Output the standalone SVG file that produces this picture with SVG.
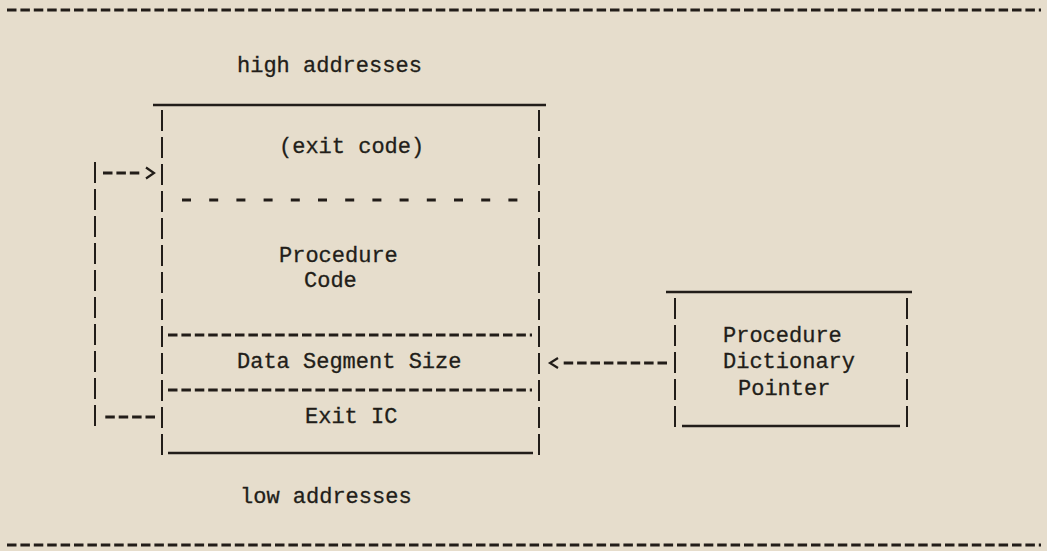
<svg xmlns="http://www.w3.org/2000/svg" width="1047" height="551" viewBox="0 0 1047 551">
<style>
.t{font-family:"Liberation Mono","DejaVu Sans Mono",monospace;font-size:22px;fill:#221d19;stroke:#221d19;stroke-width:0.3}
.solid{stroke:#221d19;stroke-width:2.6;fill:none}
.bar{stroke:#221d19;stroke-width:2;fill:none;stroke-dasharray:21 6}
.dash{stroke:#221d19;stroke-width:3;fill:none;stroke-dasharray:9.5 3.9}
.sparse{stroke:#221d19;stroke-width:3;fill:none;stroke-dasharray:9 18.2}
.head{fill:none;stroke:#221d19;stroke-width:2.2}
</style>
<rect width="1047" height="551" fill="#e6ddcc"/>
<g id="frame">
<line class="dash" x1="7" y1="10" x2="1041" y2="10"/>
<line class="dash" x1="7" y1="545" x2="1041" y2="545"/>
<text class="t" x="237" y="72">high addresses</text>
<text class="t" x="240" y="503">low addresses</text>
</g>
<g id="segment">
<line class="solid" x1="153" y1="105" x2="546" y2="105"/>
<line class="bar" x1="162" y1="110" x2="162" y2="456"/>
<line class="bar" x1="539" y1="110" x2="539" y2="456"/>
<line class="solid" x1="168" y1="453" x2="533" y2="453"/>
<line class="sparse" x1="182" y1="200" x2="518" y2="200"/>
<line class="dash" x1="168" y1="335" x2="532" y2="335"/>
<line class="dash" x1="168" y1="390" x2="532" y2="390"/>
<text class="t" x="279" y="153">(exit code)</text>
<text class="t" x="279" y="262">Procedure</text>
<text class="t" x="304" y="287">Code</text>
<text class="t" x="237" y="368">Data Segment Size</text>
<text class="t" x="305" y="423">Exit IC</text>
</g>
<g id="dictionary">
<line class="solid" x1="666" y1="292" x2="912" y2="292"/>
<line class="bar" x1="675" y1="298" x2="675" y2="428"/>
<line class="bar" x1="907" y1="298" x2="907" y2="428"/>
<line class="solid" x1="682" y1="426" x2="900" y2="426"/>
<text class="t" x="723" y="342">Procedure</text>
<text class="t" x="723" y="368">Dictionary</text>
<text class="t" x="738" y="395">Pointer</text>
</g>
<g id="connectors">
<line class="dash" x1="155" y1="417" x2="103" y2="417"/>
<line class="bar" x1="95" y1="162" x2="95" y2="426"/>
<line class="dash" x1="103" y1="173" x2="142" y2="173"/>
<path class="head" d="M146,167.5 L154,173 L146,178.5"/>
<line class="dash" x1="667" y1="363" x2="561" y2="363"/>
<path class="head" d="M558,358 L550,363 L558,368"/>
</g>
</svg>
